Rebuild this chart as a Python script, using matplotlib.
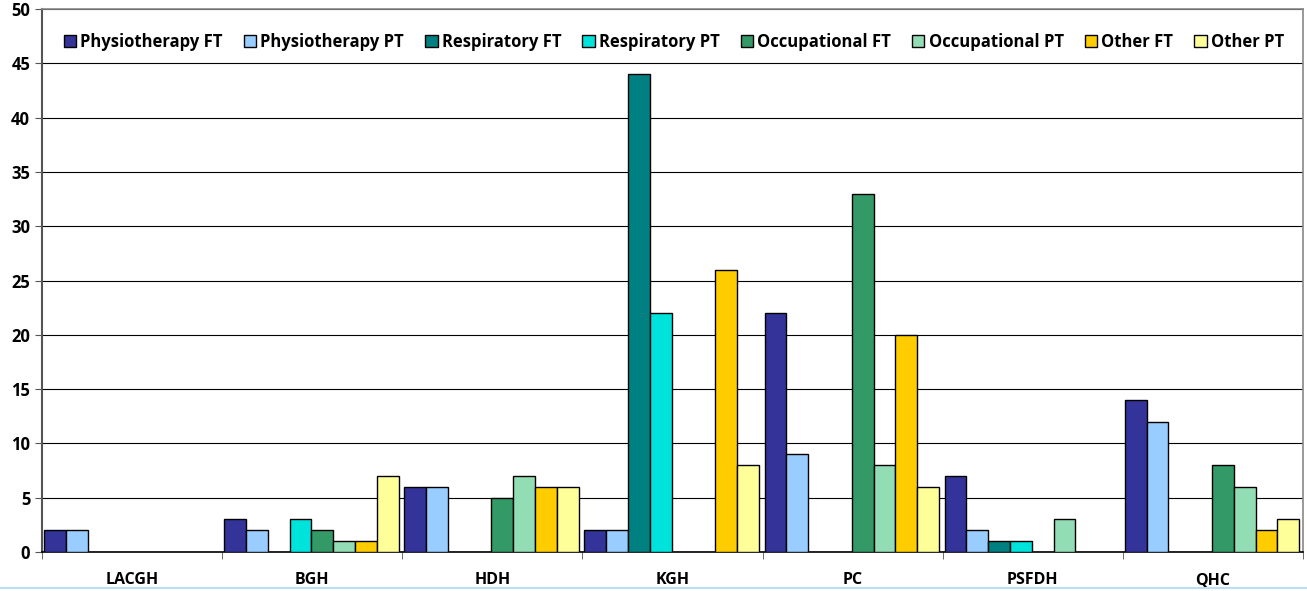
import matplotlib
matplotlib.use("Agg")
import matplotlib.pyplot as plt
import numpy as np

categories = ["LACGH", "BGH", "HDH", "KGH", "PC", "PSFDH", "QHC"]
series_names = ["Physiotherapy FT", "Physiotherapy PT", "Respiratory FT", "Respiratory PT",
                "Occupational FT", "Occupational PT", "Other FT", "Other PT"]
physio_ft = [2, 3, 6, 2, 22, 7, 14]
physio_pt = [2, 2, 6, 2, 9, 2, 12]
resp_ft = [0, 0, 0, 44, 0, 1, 0]
resp_pt = [0, 3, 0, 22, 0, 1, 0]
occ_ft = [0, 2, 5, 0, 33, 0, 8]
occ_pt = [0, 1, 7, 0, 8, 3, 6]
other_ft = [0, 1, 6, 26, 20, 0, 2]
other_pt = [0, 7, 6, 8, 6, 0, 3]
series_values = [physio_ft, physio_pt, resp_ft, resp_pt, occ_ft, occ_pt, other_ft, other_pt]
colors = ["#333399", "#99CCFF", "#008080", "#00E3DD", "#339966", "#93DDB5", "#FFCC00", "#FFFF99"]

plt.rcParams['font.family'] = ['Open Sans', 'DejaVu Sans']

fig = plt.figure(figsize=(13.07, 5.91), dpi=100)
ax = fig.add_axes([42/1307, 39/591, 1261/1307, 543/591])

n = len(series_names)
x = np.arange(len(categories))
bw = 0.121
for i, (name, vals, c) in enumerate(zip(series_names, series_values, colors)):
    offs = (i - (n - 1) / 2) * bw - 0.005
    v = np.array(vals, dtype=float)
    v[v == 0] = np.nan
    ax.bar(x + offs, v, bw, color=c, edgecolor="black", linewidth=1.0, label=name, zorder=3)

ax.set_xlim(-0.5, len(categories) - 0.5)
ax.set_ylim(0, 50)
ax.set_yticks(np.arange(0, 51, 5))
ax.yaxis.grid(True, color="black", linewidth=0.8, zorder=0)
ax.set_axisbelow(True)
ax.set_xticks(x)
ax.set_xticklabels(categories, fontweight="bold", fontsize=11.5)
ax.set_xticks(np.arange(-0.5, len(categories) + 0.5, 1), minor=True)
ax.tick_params(axis="x", which="major", length=0, pad=14.5)
ax.tick_params(axis="x", which="minor", length=5, color="#555555")
ax.tick_params(axis="y", length=5, color="#555555", labelsize=12)
for lbl in ax.get_yticklabels():
    lbl.set_fontweight("bold")

for s in ["top", "right"]:
    ax.spines[s].set_color("#888888")
    ax.spines[s].set_linewidth(1.2)
ax.spines["left"].set_color("#555555")
ax.spines["left"].set_linewidth(1.5)
ax.spines["bottom"].set_color("black")
ax.spines["bottom"].set_linewidth(1.2)

leg = ax.legend(loc="upper left", bbox_to_anchor=(0.012, 0.968), ncol=8, frameon=False,
                prop={"weight": "bold", "size": 12}, handlelength=0.75, handleheight=0.75,
                handletextpad=0.25, columnspacing=1.25, borderaxespad=0)

fig.add_artist(plt.Line2D([0, 1], [3/591, 3/591], color="#BBDDF5", linewidth=1.5,
                          transform=fig.transFigure))

fig.savefig("out.png", dpi=100)
